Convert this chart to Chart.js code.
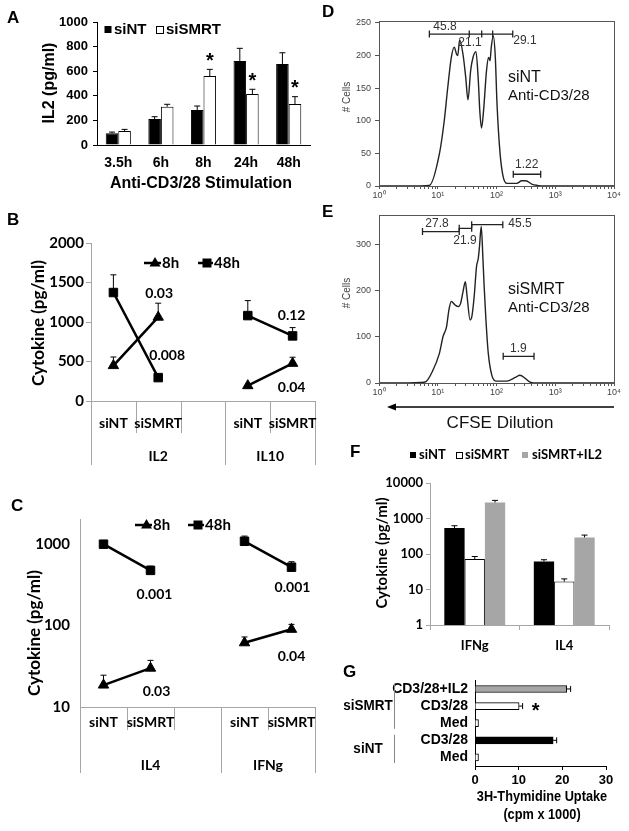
<!DOCTYPE html>
<html>
<head>
<meta charset="utf-8">
<title>SMRT knockdown panels</title>
<script src="https://cdn.jsdelivr.net/npm/chart.js@4.4.1/dist/chart.umd.min.js"></script>
<style>
  body { margin: 0; background: #fff; }
  #page { position: relative; width: 629px; height: 831px; overflow: hidden; background: #fff; }
  #page canvas { position: absolute; }
</style>
</head>
<body>
<div id="page">
  <canvas id="chartA" width="320" height="200" style="left:0;top:0"></canvas>
  <canvas id="chartB" width="322" height="300" style="left:0;top:200px"></canvas>
  <canvas id="chartC" width="322" height="331" style="left:0;top:500px"></canvas>
  <canvas id="chartD" width="309" height="205" style="left:320px;top:0"></canvas>
  <canvas id="chartE" width="309" height="240" style="left:320px;top:200px"></canvas>
  <canvas id="chartF" width="309" height="225" style="left:320px;top:440px"></canvas>
  <canvas id="chartG" width="309" height="166" style="left:320px;top:665px"></canvas>
  <canvas id="letters" width="629" height="831" style="left:0;top:0;pointer-events:none"></canvas>
</div>
<script>
// ---- data ----
// A: IL2 secretion over time
const stimTimes = ['3.5h', '6h', '8h', '24h', '48h'];
const il2SiNT = [95, 211, 285, 683, 659];
const il2SiNTErr = [10, 19, 32, 103, 91];
const il2SiSMRT = [114, 311, 561, 415, 333];
const il2SiSMRTErr = [13, 20, 54, 38, 60];
const il2Starred = [false, false, true, true, true];

// B: IL2 / IL10 at 8h and 48h
const bCats = ['siNT', 'siSMRT', '', 'siNT', 'siSMRT'];
const bGroups = ['IL2', 'IL10'];
const b8h = [448, 1061, null, 194, 477];
const b8hErr = [109, 177, null, 0, 77];
const b48h = [1373, 296, null, 1081, 824];
const b48hErr = [224, 30, null, 190, 105];
const bPvals = ['0.03', '0.008', '0.12', '0.04'];

// C: IL4 / IFNg at 8h and 48h (log)
const cCats = ['siNT', 'siSMRT', '', 'siNT', 'siSMRT'];
const cGroups = ['IL4', 'IFNg'];
const c8h = [18.6, 30, null, 61.5, 90];
const c8hErr = [6, 7.4, null, 11, 13.6];
const c48h = [1000, 477, null, 1086, 522];
const c48hErr = [0, 60, null, 172, 88];
const cPvals = ['0.001', '0.03', '0.001', '0.04'];

// D: CFSE histogram, siNT
const dFluor = [1, 3.2, 7.2, 10.7, 12.9, 14.8, 17.0, 19.1, 20.9, 21.9, 23.6, 26.9, 29.9, 32.7, 36.3, 39.8, 44.7, 49.0, 51.9, 55.6,
                60.3, 67.6, 73.3, 77.6, 81.3, 88.1, 95.5, 102, 115, 130, 151, 221, 269, 316, 398, 490, 631, 10000];
const dCells = [0, 0, 1, 50, 100, 151, 197, 213, 202, 200, 224, 202, 167, 132, 177, 197, 206, 162, 116, 89,
                116, 177, 197, 192, 212, 230, 197, 126, 50, 14, 4, 4, 8, 8, 3, 1, 0, 0];
const dCellTicks = [0, 50, 100, 150, 200, 250];
const dGates = [
  { ticks: [7.2, 34.4, 56, 86, 189], at: 233 },
  { ticks: [193, 565], at: 18 }
];
const dGateLabels = [
  { text: '45.8', x: 13.3, y: 245 }, { text: '21.1', x: 35.4, y: 219 },
  { text: '29.1', x: 305, y: 223 }, { text: '1.22', x: 327, y: 32 }
];

// E: CFSE histogram, siSMRT
const eFluor = [1, 3.2, 5.2, 6.3, 8.1, 10.7, 12.3, 14.1, 15.5, 17.0, 19.5, 22.4, 24.5, 26.9, 29.5, 31.6, 35.5, 38.0, 41.7, 45.7,
                49.0, 51.3, 55.0, 58.9, 61.7, 66.1, 72.4, 83.2, 97.7, 148, 209, 251, 309, 372, 501, 10000];
const eCells = [0, 0, 1, 3, 25, 65, 101, 122, 159, 177, 170, 166, 173, 198, 220, 188, 137, 144, 188, 253,
                271, 296, 340, 267, 209, 137, 65, 17, 4, 4, 12, 17, 10, 2, 0, 0];
const eCellTicks = [0, 100, 200, 300];
const eGates = [
  { ticks: [5.5, 23.2], at: 329 },
  { ticks: [23.2, 37.8], at: 336 },
  { ticks: [37.8, 128], at: 344 },
  { ticks: [130, 435], at: 58 }
];
const eGateLabels = [
  { text: '27.8', x: 9.7, y: 347 }, { text: '21.9', x: 29.1, y: 309 },
  { text: '45.5', x: 251, y: 347 }, { text: '1.9', x: 235, y: 75 }
];

// F: cytokines with IL2 rescue (log)
const fCats = ['IFNg', 'IL4'];
const fSiNT = [540, 61.5];
const fSiNTErr = [86, 7.5];
const fSiSMRT = [72, 16.7];
const fSiSMRTErr = [13, 3.2];
const fSiSMRTIL2 = [2830, 293];
const fSiSMRTIL2Err = [410, 48];

// G: thymidine uptake
const gConds = ['CD3/28+IL2', 'CD3/28', 'Med', 'CD3/28', 'Med'];
const gUptake = [21.0, 10.1, 0.8, 17.9, 0.8];
const gUptakeErr = [0.9, 0.8, 0, 0.8, 0];
const gFill = ['#a6a6a6', '#fff', '#fff', '#000', '#fff'];
const gSets = [{ name: 'siSMRT', rows: [0, 2] }, { name: 'siNT', rows: [3, 4] }];

// ---- shared ----
const ARIAL = '"Liberation Sans", Arial, sans-serif';
const CAL = 'Lato, "Open Sans", sans-serif';
const GRAY = '#a6a6a6';
Chart.defaults.animation = false;
Chart.defaults.color = '#000';
Chart.defaults.font.family = ARIAL;
const quiet = { legend: { display: false }, tooltip: { enabled: false }, colors: { enabled: false } };
const plain = v => String(v);

const errorBars = {
  id: 'errorBars',
  afterDatasetsDraw(chart) {
    const ctx = chart.ctx;
    const horiz = chart.options.indexAxis === 'y';
    chart.data.datasets.forEach((ds, i) => {
      if (!ds.errs) return;
      const meta = chart.getDatasetMeta(i);
      const vs = chart.scales[horiz ? meta.xAxisID : meta.yAxisID];
      ctx.save();
      ctx.strokeStyle = '#000';
      ctx.lineWidth = 1;
      meta.data.forEach((el, j) => {
        const v = ds.data[j], e = ds.errs[j];
        if (v == null || !e) return;
        const end = vs.getPixelForValue(v + e);
        const cap = ds.cap || 3;
        ctx.beginPath();
        if (horiz) {
          ctx.moveTo(el.x, el.y); ctx.lineTo(end, el.y);
          ctx.moveTo(end, el.y - cap); ctx.lineTo(end, el.y + cap);
        } else {
          ctx.moveTo(el.x, el.y); ctx.lineTo(el.x, end);
          ctx.moveTo(el.x - cap, end); ctx.lineTo(el.x + cap, end);
        }
        ctx.stroke();
      });
      ctx.restore();
    });
  }
};

function vText(ctx, text, x, y, font) {
  ctx.save();
  ctx.translate(x, y);
  ctx.rotate(-Math.PI / 2);
  ctx.font = font;
  ctx.textAlign = 'center';
  ctx.textBaseline = 'middle';
  ctx.fillText(text, 0, 0);
  ctx.restore();
}

// narrow text: squeeze horizontally (no condensed font installed)
function narrowText(ctx, text, x, y, font, sx) {
  ctx.save();
  ctx.translate(x, y);
  ctx.scale(sx, 1);
  ctx.font = font;
  ctx.fillText(text, 0, 0);
  ctx.restore();
}

function marker(ctx, style, x, y) {
  ctx.beginPath();
  if (style === 'triangle') {
    ctx.moveTo(x, y - 6); ctx.lineTo(x + 5.5, y + 3.5); ctx.lineTo(x - 5.5, y + 3.5);
  } else {
    ctx.rect(x - 4.5, y - 4.5, 9, 9);
  }
  ctx.closePath();
  ctx.fill();
}

function errTop(chart, ds, idx) {
  const d = chart.data.datasets[ds];
  return chart.scales.y.getPixelForValue(d.data[idx] + (d.errs[idx] || 0));
}
function pointAt(chart, ds, idx) {
  return chart.getDatasetMeta(ds).data[idx];
}

// grouped category axis (Excel style) for B and C
function groupAxis(cfg) {
  return {
    id: 'groupAxis',
    afterDraw(chart) {
      const { ctx, chartArea: ca, scales: { x } } = chart;
      const labels = chart.data.labels;
      const n = labels.length;
      const w = (ca.right - ca.left) / n;
      ctx.save();
      ctx.strokeStyle = GRAY;
      ctx.lineWidth = 1;
      for (let i = 0; i <= n; i++) {
        const px = Math.round(ca.left + i * w) + 0.5;
        const long = cfg.groupStarts.includes(i) || i === n;
        ctx.beginPath();
        ctx.moveTo(px, ca.bottom);
        ctx.lineTo(px, ca.bottom + (long ? cfg.longLen : cfg.shortLen));
        ctx.stroke();
      }
      ctx.fillStyle = '#000';
      ctx.font = 'bold 14px ' + CAL;
      ctx.textAlign = 'center';
      ctx.textBaseline = 'middle';
      labels.forEach((l, i) => { if (l) ctx.fillText(l, x.getPixelForValue(i), ca.bottom + cfg.subDy); });
      cfg.groups.forEach((g, k) => {
        const a = cfg.groupStarts[k];
        const b = k + 1 < cfg.groupStarts.length ? cfg.groupStarts[k + 1] : n;
        ctx.fillText(g, ca.left + (a + b) / 2 * w, ca.bottom + cfg.groupDy);
      });
      ctx.restore();
    }
  };
}

function lineLegend(ctx, items, y) {
  ctx.save();
  ctx.fillStyle = '#000';
  ctx.strokeStyle = '#000';
  ctx.lineWidth = 2.5;
  ctx.font = 'bold 15px ' + CAL;
  ctx.textBaseline = 'middle';
  items.forEach(it => {
    ctx.beginPath(); ctx.moveTo(it.x0, y); ctx.lineTo(it.x1, y); ctx.stroke();
    marker(ctx, it.style, it.m, y);
    ctx.fillText(it.text, it.x1 + 1, y);
  });
  ctx.restore();
}

function lineSeries(label, data, errs, style) {
  return {
    label, data, errs, pointStyle: style, pointRadius: 6,
    borderColor: '#000', backgroundColor: '#000', borderWidth: 2.5, spanGaps: false,
    pointBackgroundColor: '#000', pointBorderColor: '#000', pointBorderWidth: 1
  };
}

// ---- A ----
new Chart(document.getElementById('chartA'), {
  type: 'bar',
  data: {
    labels: stimTimes,
    datasets: [
      { label: 'siNT', data: il2SiNT, errs: il2SiNTErr, backgroundColor: '#000', borderColor: '#000', borderWidth: 1 },
      { label: 'siSMRT', data: il2SiSMRT, errs: il2SiSMRTErr, backgroundColor: '#fff', borderColor: '#000', borderWidth: 1 }
    ]
  },
  options: {
    responsive: false,
    layout: { padding: { top: 22, right: 10 } },
    plugins: quiet,
    datasets: { bar: { categoryPercentage: 0.59, barPercentage: 1 } },
    scales: {
      x: {
        grid: { display: false, drawTicks: false }, border: { color: '#000' },
        ticks: { padding: 10, font: { size: 14, weight: 'bold' } },
        afterFit: s => { s.height = 55; }
      },
      y: {
        min: 0, max: 1000,
        grid: { drawOnChartArea: false, color: '#000', tickLength: 4 }, border: { color: '#000' },
        ticks: { stepSize: 200, padding: 5, callback: plain, font: { size: 13, weight: 'bold' } },
        afterFit: s => { s.width = 97; }
      }
    }
  },
  plugins: [errorBars, {
    id: 'aDeco',
    afterDraw(chart) {
      const ctx = chart.ctx;
      ctx.save();
      ctx.fillStyle = '#000';
      ctx.strokeStyle = '#000';
      ctx.lineWidth = 1;
      ctx.fillRect(104.5, 26, 7, 7);
      ctx.strokeRect(156.5, 26.5, 7, 7);
      ctx.font = 'bold 15px ' + ARIAL;
      ctx.textBaseline = 'middle';
      ctx.fillText('siNT', 114, 30);
      ctx.fillText('siSMRT', 166, 30);
      ctx.textAlign = 'center';
      ctx.font = 'bold 16px ' + ARIAL;
      ctx.fillText('Anti-CD3/28 Stimulation', 201, 184);
      vText(ctx, 'IL2 (pg/ml)', 50, 83, 'bold 16px ' + ARIAL);
      ctx.font = 'bold 20px ' + ARIAL;
      il2Starred.forEach((s, i) => {
        if (!s) return;
        const el = pointAt(chart, 1, i);
        ctx.fillText('*', el.x, errTop(chart, 1, i) - 8);
      });
      ctx.restore();
    }
  }]
});

// ---- B ----
new Chart(document.getElementById('chartB'), {
  type: 'line',
  data: {
    labels: bCats,
    datasets: [lineSeries('8h', b8h, b8hErr, 'triangle'), lineSeries('48h', b48h, b48hErr, 'rect')]
  },
  options: {
    responsive: false,
    layout: { padding: { top: 43, right: 2 } },
    plugins: quiet,
    scales: {
      x: {
        offset: true, grid: { display: false, drawTicks: false }, border: { color: GRAY },
        ticks: { display: false }, afterFit: s => { s.height = 99; }
      },
      y: {
        min: 0, max: 2000,
        grid: { drawOnChartArea: false, color: GRAY, tickLength: 5 }, border: { color: GRAY },
        ticks: { stepSize: 500, padding: 2, callback: plain, font: { family: CAL, size: 15, weight: 'bold' } },
        afterFit: s => { s.width = 91; }
      }
    }
  },
  plugins: [errorBars, groupAxis({ groupStarts: [0, 3], groups: bGroups, shortLen: 32, longLen: 64, subDy: 22, groupDy: 55 }), {
    id: 'bDeco',
    afterDraw(chart) {
      const ctx = chart.ctx;
      lineLegend(ctx, [
        { x0: 144, x1: 161, m: 155, style: 'triangle', text: '8h' },
        { x0: 198, x1: 213, m: 207, style: 'rect', text: '48h' }
      ], 63);
      vText(ctx, 'Cytokine (pg/ml)', 39, 123, 'bold 17px ' + CAL);
      ctx.save();
      ctx.fillStyle = '#000';
      ctx.font = 'bold 14px ' + CAL;
      ctx.textAlign = 'center';
      ctx.textBaseline = 'middle';
      let p;
      p = pointAt(chart, 0, 1); ctx.fillText(bPvals[0], p.x + 1, errTop(chart, 0, 1) - 10);
      p = pointAt(chart, 1, 1); ctx.fillText(bPvals[1], p.x + 9, p.y - 22);
      p = pointAt(chart, 1, 4); ctx.fillText(bPvals[2], p.x - 1, errTop(chart, 1, 4) - 12);
      p = pointAt(chart, 0, 4); ctx.fillText(bPvals[3], p.x - 1, p.y + 24);
      ctx.restore();
    }
  }]
});

// ---- C ----
new Chart(document.getElementById('chartC'), {
  type: 'line',
  data: {
    labels: cCats,
    datasets: [lineSeries('8h', c8h, c8hErr, 'triangle'), lineSeries('48h', c48h, c48hErr, 'rect')]
  },
  options: {
    responsive: false,
    layout: { padding: { top: 13, right: 2 } },
    plugins: quiet,
    scales: {
      x: {
        offset: true, grid: { display: false, drawTicks: false }, border: { color: GRAY },
        ticks: { display: false }, afterFit: s => { s.height = 124; }
      },
      y: {
        type: 'logarithmic', min: 10, max: 2040,
        afterBuildTicks: s => { s.ticks = [10, 100, 1000].map(v => ({ value: v })); },
        grid: { drawOnChartArea: false, drawTicks: false }, border: { color: GRAY },
        ticks: { padding: 10, callback: plain, font: { family: CAL, size: 15, weight: 'bold' } },
        afterFit: s => { s.width = 80; }
      }
    }
  },
  plugins: [errorBars, groupAxis({ groupStarts: [0, 3], groups: cGroups, shortLen: 23, longLen: 66, subDy: 15, groupDy: 58 }), {
    id: 'cDeco',
    afterDraw(chart) {
      const ctx = chart.ctx;
      lineLegend(ctx, [
        { x0: 135, x1: 152, m: 146.5, style: 'triangle', text: '8h' },
        { x0: 188, x1: 204, m: 198, style: 'rect', text: '48h' }
      ], 25);
      vText(ctx, 'Cytokine (pg/ml)', 35, 133, 'bold 17px ' + CAL);
      ctx.save();
      ctx.fillStyle = '#000';
      ctx.font = 'bold 14px ' + CAL;
      ctx.textAlign = 'center';
      ctx.textBaseline = 'middle';
      let p;
      p = pointAt(chart, 1, 1); ctx.fillText(cPvals[0], p.x + 4, p.y + 24);
      p = pointAt(chart, 0, 1); ctx.fillText(cPvals[1], p.x + 6, p.y + 23);
      p = pointAt(chart, 1, 4); ctx.fillText(cPvals[2], p.x + 1, p.y + 20);
      p = pointAt(chart, 0, 4); ctx.fillText(cPvals[3], p.x, p.y + 27);
      ctx.restore();
    }
  }]
});

// ---- D / E : CFSE histograms ----
const decadeTicks = [];
for (let d = 1; d <= 10000; d *= 10) {
  for (let m = 1; m < 10; m++) if (d * m <= 10000) decadeTicks.push(d * m);
}
const powLabels = { 1: '10\u2070', 10: '10\u00b9', 100: '10\u00b2', 1000: '10\u00b3', 10000: '10\u2074' };

function histogram(id, fluor, cells, opts) {
  return new Chart(document.getElementById(id), {
    type: 'line',
    data: {
      datasets: [{
        data: fluor.map((f, i) => ({ x: f, y: cells[i] })),
        borderColor: '#222', borderWidth: 1.4, pointRadius: 0, fill: false,
        cubicInterpolationMode: 'monotone'
      }]
    },
    options: {
      responsive: false,
      layout: { padding: { top: opts.top, right: 15 } },
      plugins: quiet,
      scales: {
        x: {
          type: 'logarithmic', min: 1, max: 10000,
          afterBuildTicks: s => { s.ticks = decadeTicks.map(v => ({ value: v })); },
          grid: { drawOnChartArea: false, color: '#555', tickLength: 3 }, border: { color: '#555' },
          ticks: { autoSkip: false, maxRotation: 0, padding: 1, color: '#444', font: { size: 9 }, callback: v => powLabels[v] || '' },
          afterFit: s => { s.height = opts.xh; }
        },
        y: {
          min: 0, max: opts.ymax,
          afterBuildTicks: s => { s.ticks = opts.yticks.map(v => ({ value: v })); },
          grid: { drawOnChartArea: false, color: '#555', tickLength: 4 }, border: { color: '#555' },
          ticks: { padding: 4, color: '#444', font: { size: 9 } },
          afterFit: s => { s.width = 59; }
        }
      }
    },
    plugins: [{
      id: 'flowDeco',
      afterDraw(chart) {
        const { ctx, chartArea: ca, scales: { x, y } } = chart;
        ctx.save();
        ctx.strokeStyle = '#555';
        ctx.lineWidth = 1;
        ctx.strokeRect(ca.left + 0.5, ca.top + 0.5, ca.right - ca.left, ca.bottom - ca.top);
        ctx.strokeStyle = '#222';
        ctx.lineWidth = 1.3;
        opts.gates.forEach(g => {
          const py = y.getPixelForValue(g.at);
          const xs = g.ticks.map(v => x.getPixelForValue(v));
          ctx.beginPath();
          ctx.moveTo(xs[0], py); ctx.lineTo(xs[xs.length - 1], py);
          xs.forEach(px => { ctx.moveTo(px, py - 3.5); ctx.lineTo(px, py + 3.5); });
          ctx.stroke();
        });
        ctx.fillStyle = '#333';
        ctx.font = '12px ' + ARIAL;
        ctx.textAlign = 'center';
        ctx.textBaseline = 'middle';
        opts.gateLabels.forEach(l => ctx.fillText(l.text, x.getPixelForValue(l.x), y.getPixelForValue(l.y)));
        ctx.fillStyle = '#111';
        ctx.textAlign = 'left';
        ctx.font = '16px ' + ARIAL;
        ctx.fillText(opts.name, 188, opts.nameY);
        ctx.font = '15px ' + ARIAL;
        ctx.fillText('Anti-CD3/28', 188, opts.nameY + 18);
        ctx.fillStyle = '#444';
        vText(ctx, '# Cells', 27, opts.cellsY, '10px ' + ARIAL);
        if (opts.arrow) {
          const ay = opts.arrow;
          ctx.strokeStyle = '#000';
          ctx.fillStyle = '#000';
          ctx.lineWidth = 1.5;
          ctx.beginPath(); ctx.moveTo(ca.right, ay); ctx.lineTo(ca.left + 14, ay); ctx.stroke();
          ctx.beginPath(); ctx.moveTo(ca.left + 8, ay); ctx.lineTo(ca.left + 17, ay - 3.5); ctx.lineTo(ca.left + 17, ay + 3.5); ctx.closePath(); ctx.fill();
          ctx.font = '17px ' + ARIAL;
          ctx.textAlign = 'center';
          ctx.fillStyle = '#111';
          ctx.fillText('CFSE Dilution', 180, ay + 16);
        }
        ctx.restore();
      }
    }]
  });
}

histogram('chartD', dFluor, dCells, {
  top: 21, xh: 19, ymax: 253, yticks: dCellTicks, gates: dGates, gateLabels: dGateLabels,
  name: 'siNT', nameY: 78, cellsY: 97
});
histogram('chartE', eFluor, eCells, {
  top: 15, xh: 57, ymax: 365, yticks: eCellTicks, gates: eGates, gateLabels: eGateLabels,
  name: 'siSMRT', nameY: 90, cellsY: 93, arrow: 207
});

// ---- F ----
new Chart(document.getElementById('chartF'), {
  type: 'bar',
  data: {
    labels: fCats,
    datasets: [
      { label: 'siNT', data: fSiNT, errs: fSiNTErr, backgroundColor: '#000', borderColor: '#000', borderWidth: 0 },
      { label: 'siSMRT', data: fSiSMRT, errs: fSiSMRTErr, backgroundColor: '#fff', borderColor: '#000', borderWidth: 1 },
      { label: 'siSMRT+IL2', data: fSiSMRTIL2, errs: fSiSMRTIL2Err, backgroundColor: GRAY, borderColor: GRAY, borderWidth: 0 }
    ]
  },
  options: {
    responsive: false,
    layout: { padding: { top: 43, right: 20 } },
    plugins: quiet,
    datasets: { bar: { categoryPercentage: 0.68, barPercentage: 1 } },
    scales: {
      x: {
        grid: { drawOnChartArea: false, offset: true, color: GRAY, tickLength: 5 }, border: { color: GRAY },
        ticks: { padding: 8, font: { family: CAL, size: 13, weight: 'bold' } },
        afterFit: s => { s.height = 40; }
      },
      y: {
        type: 'logarithmic', min: 1, max: 10000,
        afterBuildTicks: s => { s.ticks = [1, 10, 100, 1000, 10000].map(v => ({ value: v })); },
        grid: { drawOnChartArea: false, color: GRAY, tickLength: 4 }, border: { color: GRAY },
        ticks: { padding: 3, callback: plain, font: { family: CAL, size: 13, weight: 'bold' } },
        afterFit: s => { s.width = 110; }
      }
    }
  },
  plugins: [errorBars, {
    id: 'fDeco',
    afterDraw(chart) {
      const ctx = chart.ctx;
      ctx.save();
      ctx.font = 'bold 13px ' + CAL;
      ctx.textBaseline = 'middle';
      ctx.fillStyle = '#000';
      ctx.fillRect(90, 12, 6, 6);
      ctx.fillText('siNT', 99, 15);
      ctx.strokeStyle = '#000';
      ctx.lineWidth = 1;
      ctx.strokeRect(136.5, 12.5, 6, 6);
      ctx.fillText('siSMRT', 145, 15);
      ctx.fillStyle = GRAY;
      ctx.fillRect(202, 12, 6, 6);
      ctx.fillStyle = '#000';
      ctx.fillText('siSMRT+IL2', 212, 15);
      vText(ctx, 'Cytokine (pg/ml)', 62, 113, 'bold 15px ' + CAL);
      ctx.restore();
    }
  }]
});

// ---- G ----
new Chart(document.getElementById('chartG'), {
  type: 'bar',
  data: {
    labels: gConds,
    datasets: [{
      data: gUptake, errs: gUptakeErr, backgroundColor: gFill, borderColor: '#000', borderWidth: 1,
      barThickness: 7, cap: 3
    }]
  },
  options: {
    indexAxis: 'y',
    responsive: false,
    layout: { padding: { top: 10, right: 23 } },
    plugins: quiet,
    scales: {
      x: {
        min: 0, max: 30,
        grid: { drawOnChartArea: false, color: '#000', tickLength: 4 }, border: { color: '#000' },
        ticks: { stepSize: 10, padding: 3, font: { size: 13, weight: 'bold' } },
        afterFit: s => { s.height = 65; }
      },
      y: {
        grid: { display: false, drawTicks: false }, border: { color: '#000' },
        ticks: { autoSkip: false, padding: 7, font: { size: 14, weight: 'bold' } },
        afterFit: s => { s.width = 155; }
      }
    }
  },
  plugins: [errorBars, {
    id: 'gDeco',
    afterDraw(chart) {
      const { ctx, scales: { y } } = chart;
      ctx.save();
      ctx.fillStyle = '#000';
      ctx.strokeStyle = '#888';
      ctx.lineWidth = 1;
      ctx.font = 'bold 15px ' + ARIAL;
      ctx.textAlign = 'center';
      ctx.textBaseline = 'middle';
      const half = (y.getPixelForValue(1) - y.getPixelForValue(0)) / 2;
      gSets.forEach(g => {
        const t = y.getPixelForValue(g.rows[0]) - half + 3;
        const b = y.getPixelForValue(g.rows[1]) + half - 3;
        ctx.beginPath(); ctx.moveTo(74.5, t); ctx.lineTo(74.5, b); ctx.stroke();
        narrowText(ctx, g.name, 48, (t + b) / 2, 'bold 15px ' + ARIAL, 0.9);
      });
      const el = pointAt(chart, 0, 1);
      const end = chart.scales.x.getPixelForValue(gUptake[1] + gUptakeErr[1]);
      ctx.font = 'bold 20px ' + ARIAL;
      ctx.fillText('*', end + 13, el.y + 5);
      narrowText(ctx, '3H-Thymidine Uptake', 222, 132, 'bold 15px ' + ARIAL, 0.85);
      narrowText(ctx, '(cpm x 1000)', 222, 150, 'bold 15px ' + ARIAL, 0.85);
      ctx.restore();
    }
  }]
});

// ---- panel letters ----
(function () {
  const ctx = document.getElementById('letters').getContext('2d');
  ctx.fillStyle = '#000';
  ctx.font = 'bold 17px ' + ARIAL;
  [['A', 7, 23], ['B', 7, 225], ['C', 11, 511], ['D', 322, 17], ['E', 322, 217], ['F', 350, 457], ['G', 343, 677]]
    .forEach(([t, x, y]) => ctx.fillText(t, x, y));
})();
</script>
</body>
</html>
